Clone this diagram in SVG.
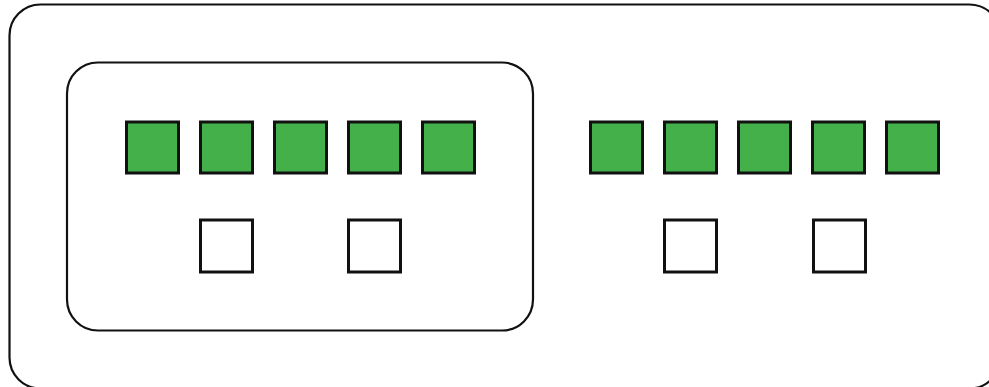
<svg xmlns="http://www.w3.org/2000/svg" width="989" height="387" viewBox="0 0 989 387">
<style>
.frame{fill:none;stroke:#111;stroke-width:2.2}
.g{fill:#43b04a;stroke:#111;stroke-width:3}
.w{fill:#fff;stroke:#111;stroke-width:3}
</style>
<rect x="0" y="0" width="989" height="387" fill="#fff"/>
<g id="outer"><rect class="frame" x="9.5" y="4.5" width="991" height="384" rx="31" ry="31"/></g>
<g id="inner"><rect class="frame" x="67" y="62.5" width="466" height="268" rx="31" ry="31"/></g>
<g id="left-green">
<rect class="g" x="126.5" y="122" width="52" height="51"/>
<rect class="g" x="200.5" y="122" width="52" height="51"/>
<rect class="g" x="274.5" y="122" width="52" height="51"/>
<rect class="g" x="348.5" y="122" width="52" height="51"/>
<rect class="g" x="422.5" y="122" width="52" height="51"/>
</g>
<g id="left-white">
<rect class="w" x="200.5" y="220" width="52" height="52"/>
<rect class="w" x="348.5" y="220" width="52" height="52"/>
</g>
<g id="right-green">
<rect class="g" x="590.5" y="122" width="52" height="51"/>
<rect class="g" x="664.5" y="122" width="52" height="51"/>
<rect class="g" x="738.5" y="122" width="52" height="51"/>
<rect class="g" x="812.5" y="122" width="52" height="51"/>
<rect class="g" x="886.5" y="122" width="52" height="51"/>
</g>
<g id="right-white">
<rect class="w" x="664.5" y="220" width="52" height="52"/>
<rect class="w" x="813.5" y="220" width="52" height="52"/>
</g>
<g id="connectors"/>
</svg>
